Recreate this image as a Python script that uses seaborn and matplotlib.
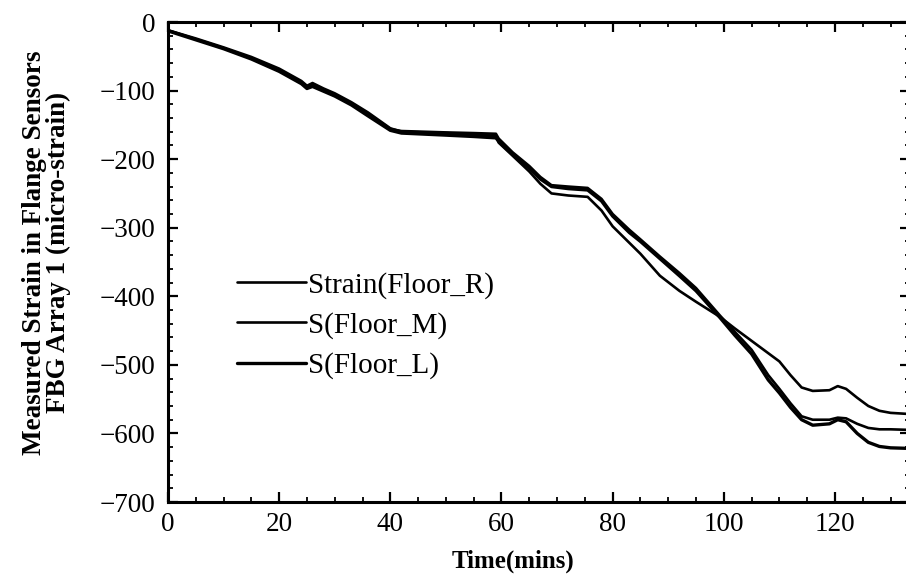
import numpy as np
import pandas as pd
import matplotlib
matplotlib.use("Agg")
import matplotlib.pyplot as plt
from matplotlib.ticker import MultipleLocator
import seaborn as sns

# time (mins) and measured strain (micro-strain)
time = [0, 5, 10, 15, 20, 24, 25, 26, 28, 30, 33, 36, 40, 42, 50, 55, 59, 59.5,
        62, 65, 67, 69, 72, 75.5, 78, 80, 83, 85, 88.5, 92, 95, 99.3, 102, 105,
        108, 110, 112, 114, 116, 119, 120.5, 122, 124, 126, 128, 130, 134]

floor_r = [-12, -24, -37, -51, -68, -86, -93, -89, -97, -104, -117, -132, -155,
           -160, -162, -164, -166, -176, -195, -218, -236, -250, -253, -255,
           -275, -298, -322, -338, -370, -392, -408, -430, -447, -465, -483,
           -495, -515, -533, -538, -537, -531, -535, -548, -560, -567, -570, -572]

floor_m = [-12, -25, -38, -53, -70, -88, -95, -92, -99, -106, -119, -134, -156,
           -159, -161, -162, -163, -170, -190, -210, -226, -238, -240, -242,
           -258, -280, -303, -317, -342, -366, -388, -428, -452, -478, -515,
           -535, -556, -575, -580, -580, -577, -578, -586, -592, -594, -594, -595]

floor_l = [-13, -26, -39, -54, -72, -90, -97, -94, -101, -108, -121, -137, -158,
           -162, -165, -167, -169, -174, -193, -213, -229, -240, -243, -245,
           -261, -283, -307, -320, -345, -370, -392, -431, -457, -484, -522,
           -541, -562, -580, -588, -586, -580, -583, -600, -613, -619, -621, -622]

labels = ["Strain(Floor_R)", "S(Floor_M)", "S(Floor_L)"]

sns.set_theme(style="white")
plt.rcParams['font.family'] = ['Liberation Serif', 'DejaVu Serif']
plt.rcParams['axes.unicode_minus'] = True
plt.rcParams['text.color'] = 'black'
plt.rcParams['axes.labelcolor'] = 'black'

fig = plt.figure(figsize=(9.06, 5.82), dpi=100)
# right spine sits just past the image edge, like the cropped original
ax = fig.add_axes([168 / 906, 1 - 502 / 582, 742 / 906, 480 / 582])

for vals, lab, lw in zip([floor_r, floor_m, floor_l], labels, [1.9, 1.9, 2.4]):
    df = pd.DataFrame({"t": time, "s": vals})
    sns.lineplot(data=df, x="t", y="s", ax=ax, color="black", lw=lw,
                 label=lab, sort=False)

ax.set_xlim(0, 133.5)
ax.set_ylim(-700, 0)
ax.xaxis.set_major_locator(MultipleLocator(20))
ax.xaxis.set_minor_locator(MultipleLocator(5))
ax.yaxis.set_major_locator(MultipleLocator(100))
ax.yaxis.set_minor_locator(MultipleLocator(20))

ax.tick_params(which="both", direction="in", top=True, right=True,
               bottom=True, left=True, colors="black", labelsize=19.5)
ax.tick_params(which="major", length=7, width=1.6)
ax.tick_params(which="minor", length=3.5, width=1.3)
ax.tick_params(axis="x", pad=7)
ax.tick_params(axis="y", pad=9)

for sp in ax.spines.values():
    sp.set_visible(True)
    sp.set_color("black")
    sp.set_linewidth(2.2)

ax.set_xlabel("Time(mins)", fontsize=18, fontweight="bold")
ax.set_ylabel("Measured Strain in Flange Sensors\nFBG Array 1 (micro-strain)",
              fontsize=19.5, fontweight="bold", linespacing=0.95)
ax.xaxis.set_label_coords(0.465, -0.1)
ax.yaxis.set_label_coords(-0.131, 0.52)

leg = ax.legend(loc="upper left", bbox_to_anchor=(0.093, 0.48), frameon=False,
                fontsize=21, handlelength=2.35, handletextpad=0.1,
                labelspacing=0.46, borderpad=0, borderaxespad=0)

fig.savefig("out.png", dpi=100)
